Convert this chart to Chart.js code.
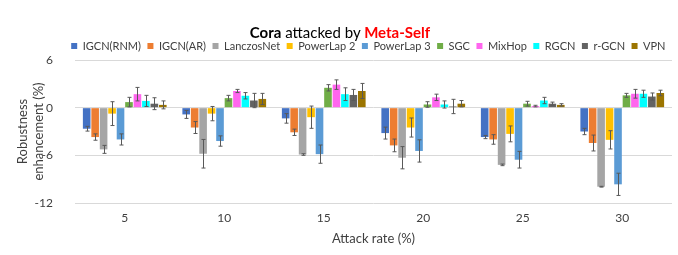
<!DOCTYPE html>
<html>
<head>
<meta charset="utf-8">
<script src="https://cdn.jsdelivr.net/npm/chart.js@4"></script>
<style>
  body { margin: 0; background: #fff; }
  #wrap { position: relative; width: 678px; height: 255px; }
  #title {
    position: absolute; left: 11px; top: 23px; width: 658px;
    text-align: center; font-family: Lato, "Open Sans", sans-serif;
    font-size: 15px; color: #000; white-space: nowrap;
  }
  #title b { font-weight: bold; }
  #title .red { color: #ff0000; }
</style>
</head>
<body>
<div id="wrap">
  <div id="title"><b>Cora</b> attacked by <b class="red">Meta-Self</b></div>
  <canvas id="chart" width="678" height="255"></canvas>
</div>
<script>
// 攻击率（横轴类别）
const attackRates = ['5', '10', '15', '20', '25', '30'];

// 各方法名称和颜色
const methods = ['IGCN(RNM)', 'IGCN(AR)', 'LanczosNet', 'PowerLap 2', 'PowerLap 3', 'SGC', 'MixHop', 'RGCN', 'r-GCN', 'VPN'];
const colors = ['#4472c4', '#ed7d31', '#a5a5a5', '#ffc000', '#5b9bd5', '#70ad47', '#ff66ee', '#00ffff', '#636363', '#9c7500'];

// 鲁棒性提升均值 (%)
const igcnRnm   = [-2.65, -0.85, -1.35, -3.2, -3.7, -3.0];
const igcnAr    = [-3.7, -2.5, -3.1, -4.75, -4.0, -4.45];
const lanczos   = [-5.25, -5.8, -5.9, -6.3, -7.2, -9.95];
const powerLap2 = [-0.75, -0.75, -1.2, -2.5, -3.3, -4.05];
const powerLap3 = [-4.0, -4.2, -5.85, -5.45, -6.55, -9.65];
const sgc       = [0.7, 1.2, 2.5, 0.4, 0.5, 1.55];
const mixHop    = [1.7, 2.1, 2.9, 1.3, 0.2, 1.75];
const rgcn      = [0.85, 1.5, 1.7, 0.4, 0.9, 1.75];
const rGcn      = [0.5, 0.9, 1.6, 0.15, 0.5, 1.4];
const vpn       = [0.35, 1.1, 2.1, 0.5, 0.35, 1.85];

// 误差（标准差）
const igcnRnmErr   = [0.3, 0.5, 0.6, 0.75, 0.2, 0.4];
const igcnArErr    = [0.4, 0.75, 0.4, 0.8, 0.6, 1.0];
const lanczosErr   = [0.5, 1.8, 0.1, 1.4, 0.1, 0.05];
const powerLap2Err = [1.5, 0.9, 1.4, 1.2, 1.0, 1.15];
const powerLap3Err = [0.7, 0.65, 1.15, 1.4, 1.05, 1.4];
const sgcErr       = [0.6, 0.35, 0.4, 0.35, 0.3, 0.25];
const mixHopErr    = [0.85, 0.2, 0.6, 0.4, 0.1, 0.55];
const rgcnErr      = [0.7, 0.4, 0.8, 0.45, 0.4, 0.45];
const rGcnErr      = [0.75, 0.9, 0.7, 0.9, 0.2, 0.45];
const vpnErr       = [0.5, 0.7, 0.95, 0.4, 0.15, 0.35];

const values = [igcnRnm, igcnAr, lanczos, powerLap2, powerLap3, sgc, mixHop, rgcn, rGcn, vpn];
const errors = [igcnRnmErr, igcnArErr, lanczosErr, powerLap2Err, powerLap3Err, sgcErr, mixHopErr, rgcnErr, rGcnErr, vpnErr];

// 误差线插件
const errorBars = {
    id: 'errorBars',
    afterDatasetsDraw(chart) {
        const ctx = chart.ctx;
        const y = chart.scales.y;
        ctx.save();
        ctx.strokeStyle = '#595959';
        ctx.lineWidth = 1;
        chart.data.datasets.forEach((ds, i) => {
            const meta = chart.getDatasetMeta(i);
            meta.data.forEach((bar, j) => {
                const v = ds.data[j];
                const e = ds.errors[j];
                const x = Math.round(bar.x) + 0.5;
                const top = y.getPixelForValue(v + e);
                const bottom = y.getPixelForValue(v - e);
                ctx.beginPath();
                ctx.moveTo(x, top); ctx.lineTo(x, bottom);
                ctx.moveTo(x - 2, top); ctx.lineTo(x + 2, top);
                ctx.moveTo(x - 2, bottom); ctx.lineTo(x + 2, bottom);
                ctx.stroke();
            });
        });
        ctx.restore();
    }
};

Chart.defaults.font.family = 'Lato, "Open Sans", sans-serif';
Chart.defaults.color = '#404040';

new Chart(document.getElementById('chart'), {
    type: 'bar',
    data: {
        labels: attackRates,
        datasets: methods.map((m, i) => ({
            label: m,
            data: values[i],
            errors: errors[i],
            backgroundColor: colors[i],
            borderWidth: 0
        }))
    },
    options: {
        responsive: false,
        animation: false,
        layout: { padding: { top: 34, right: 6, bottom: 8, left: 15 } },
        datasets: { bar: { categoryPercentage: 0.85, barPercentage: 0.9 } },
        plugins: {
            legend: {
                position: 'top',
                align: 'end',
                maxHeight: 26,
                labels: {
                    boxWidth: 6, boxHeight: 6, padding: 6.5,
                    font: { size: 11 }, color: '#404040'
                }
            },
            tooltip: { enabled: false }
        },
        scales: {
            x: {
                grid: { display: false },
                border: { display: false },
                ticks: { font: { size: 12 }, color: '#404040', padding: 0 },
                title: { display: true, text: 'Attack rate (%)', font: { size: 13 }, color: '#404040', padding: { top: 6, bottom: 0 } }
            },
            y: {
                min: -12, max: 6,
                ticks: { stepSize: 6, font: { size: 12 }, color: '#404040', padding: 22 },
                grid: { color: '#d9d9d9', drawTicks: false },
                border: { display: false },
                title: { display: true, text: ['Robustness', 'enhancement (%)'], font: { size: 13 }, color: '#404040', padding: 0 },
                afterFit(scale) { scale.width = 60; }
            }
        }
    },
    plugins: [errorBars]
});
</script>
</body>
</html>
